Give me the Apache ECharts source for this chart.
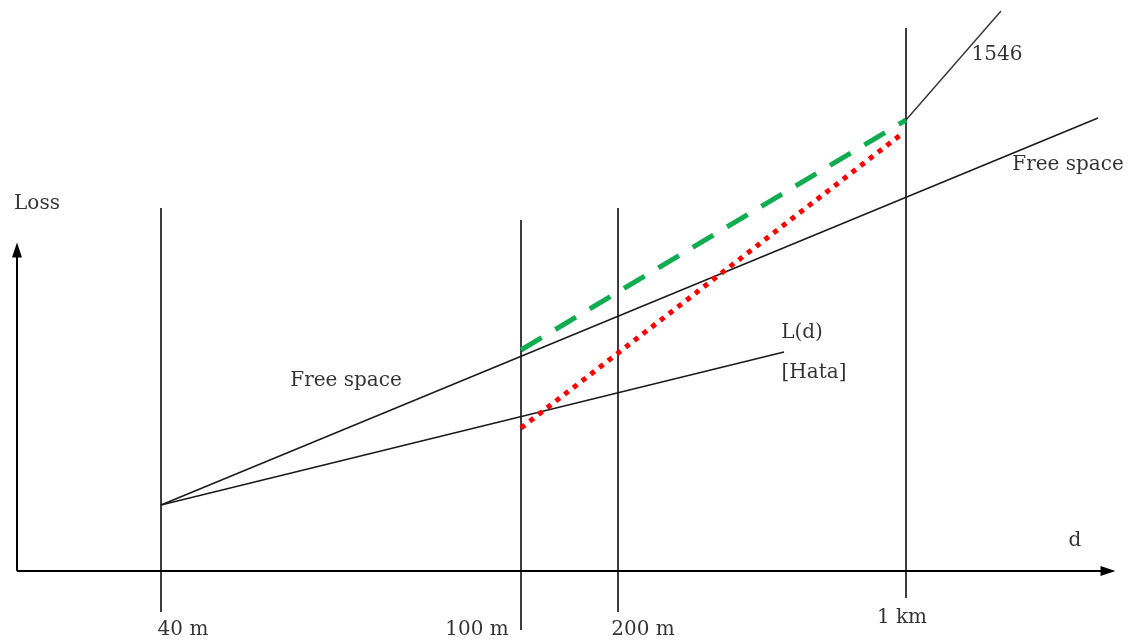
<!DOCTYPE html>
<html lang="en">
<head>
    <meta charset="UTF-8">
    <title>Loss vs distance</title>
    <script src="https://cdn.jsdelivr.net/npm/echarts@6/dist/echarts.min.js"></script>
    <style>
        html, body, #chart {
            height: 100%;
            padding: 0;
            margin: 0;
            background: #fff;
        }
    </style>
</head>
<body>
<div id="chart"></div>
<script>
    // diagram units: x = distance along axis, y = loss (origin at axis corner)
    var axisX = [[0, 0], [1091, 0]];
    var axisY = [[0, 0], [0, 321]];

    // vertical markers: [x, bottom, top]
    var markers = [
        [144, -41, 363],
        [504, -59, 351],
        [601, -41, 363],
        [889, -27, 543]
    ];

    var freeSpace = [[144, 66], [1081, 453]];
    var hata = [[144, 66], [767, 219]];
    var model1546 = [[889, 451], [984, 560]];
    var greenDashed = [[504, 221], [889, 451]];
    var redDotted = [[504, 143], [886, 438]];

    // text labels: [text, x, y]
    var labels = [
        ["Loss", 20, 367],
        ["40 m", 166, -59],
        ["100 m", 460, -59],
        ["200 m", 626, -59],
        ["1 km", 885, -47],
        ["d", 1058, 30],
        ["Free space", 329, 190],
        ["Free space", 1051, 406],
        ["1546", 980, 516],
        ["L(d)", 785, 238],
        ["[Hata]", 797, 198]
    ];

    var chart = echarts.init(document.getElementById("chart"));

    function seg(data, color, width, type) {
        return {
            type: "line",
            data: data,
            symbol: "none",
            silent: true,
            lineStyle: {
                color: color,
                width: width,
                type: type || "solid",
                cap: "butt",
                opacity: 1
            }
        };
    }

    var series = [];

    markers.forEach(function (m) {
        series.push(seg([[m[0], m[1]], [m[0], m[2]]], "#1a1a1a", 1.7));
    });

    series.push(seg(freeSpace, "#1a1a1a", 1.5));
    series.push(seg(hata, "#1a1a1a", 1.5));
    series.push(seg(model1546, "#333", 1.4));
    series.push(seg(greenDashed, "#0fac50", 5, [24, 16]));
    series.push(seg(redDotted, "#ff0000", 5, [5, 6]));

    // axes with arrow heads
    series.push({
        type: "line",
        data: [],
        markLine: {
            silent: true,
            animation: false,
            symbol: ["none", "triangle"],
            symbolSize: [10, 15],
            label: {show: false},
            lineStyle: {color: "#000", width: 2, type: "solid"},
            data: [
                [{coord: axisX[0]}, {coord: axisX[1]}],
                [{coord: axisY[0]}, {coord: axisY[1]}]
            ]
        }
    });

    series.push({
        type: "scatter",
        symbolSize: 0,
        silent: true,
        data: labels.map(function (l) {
            return {name: l[0], value: [l[1], l[2]]};
        }),
        label: {
            show: true,
            position: "inside",
            formatter: "{b}",
            color: "#000",
            fontFamily: "DejaVu Serif",
            fontSize: 20
        }
    });

    chart.setOption({
        animation: false,
        grid: {left: 0, right: 0, top: 0, bottom: 0},
        xAxis: {type: "value", min: -17, max: 1114, show: false},
        yAxis: {type: "value", min: -71, max: 571, show: false},
        series: series
    });
</script>
</body>
</html>
